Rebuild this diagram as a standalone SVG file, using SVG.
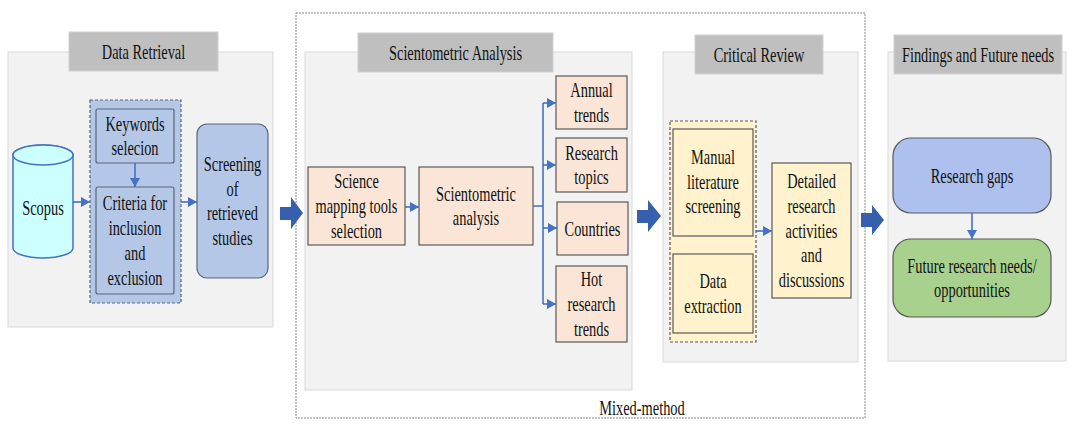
<svg xmlns="http://www.w3.org/2000/svg" width="1080" height="430" viewBox="0 0 1080 430">
<defs>
<marker id="ah" markerUnits="userSpaceOnUse" markerWidth="9" markerHeight="10" refX="9" refY="5" orient="auto">
<path d="M0,0 L9,5 L0,10 z" fill="#4472C4"/>
</marker>
<style>
.panel{fill:#F2F2F2;stroke:#D9D9D9;stroke-width:1}
.hdr{fill:#BFBFBF;stroke:#D0D0D0;stroke-width:1}
text{font-family:'Liberation Serif','Times New Roman','DejaVu Serif',serif;font-size:20px;fill:#111;text-anchor:middle}
.blue{fill:#B4C7E7;stroke:#5A6478;stroke-width:1.2}
.peach{fill:#FBE5D6;stroke:#595959;stroke-width:1.2}
.yel{fill:#FFF2CC;stroke:#595959;stroke-width:1.2}
.dash{stroke-dasharray:3 2}
.con{stroke:#4472C4;stroke-width:1.6;fill:none}
.big{fill:#3660AE}
</style>
</defs>
<rect x="0" y="0" width="1080" height="430" fill="#fff"/>

<g id="mixed-method">
<rect x="296" y="13" width="569" height="405" fill="#fff" stroke="#8C8C8C" stroke-width="1" stroke-dasharray="2 1"/>
<text font-family="Liberation Serif, serif" transform="translate(642,415) scale(0.72,1)" x="0" y="0">Mixed-method</text>
</g>

<g id="panel-data-retrieval">
<rect class="panel" x="8" y="52" width="265" height="275"/>
<rect class="hdr" x="69" y="32" width="149" height="39"/>
<text font-family="Liberation Serif, serif" transform="translate(143.5,51.5) scale(0.72,1)" x="0" y="7">Data Retrieval</text>
</g>
<g id="panel-scientometric">
<rect class="panel" x="305" y="52" width="327" height="338"/>
<rect class="hdr" x="358" y="33" width="195" height="39"/>
<text font-family="Liberation Serif, serif" transform="translate(455.5,52.5) scale(0.72,1)" x="0" y="7">Scientometric Analysis</text>
</g>
<g id="panel-critical-review">
<rect class="panel" x="663" y="52" width="195" height="310"/>
<rect class="hdr" x="695" y="35" width="128" height="39"/>
<text font-family="Liberation Serif, serif" transform="translate(759,54.5) scale(0.72,1)" x="0" y="7">Critical Review</text>
</g>
<g id="panel-findings">
<rect class="panel" x="888" y="52" width="178" height="309"/>
<rect class="hdr" x="894" y="35" width="168" height="39"/>
<text font-family="Liberation Serif, serif" transform="translate(978,54.5) scale(0.72,1)" x="0" y="7">Findings and Future needs</text>
</g>

<g id="scopus">
<path d="M13,155 L13,248 A30,10 0 0 0 73,248 L73,155 A30,10 0 0 0 13,155 Z" fill="#CCFFFF" stroke="#4472C4" stroke-width="1.5"/>
<ellipse cx="43" cy="155" rx="30" ry="10" fill="#CCFFFF" stroke="#4472C4" stroke-width="1.5"/>
<text font-family="Liberation Serif, serif" transform="translate(43,208) scale(0.72,1)" x="0" y="7">Scopus</text>
</g>
<g id="keywords-group">
<rect class="blue dash" x="90" y="100" width="91" height="203"/>
</g>
<g id="keywords">
<rect class="blue" x="96" y="109" width="78" height="54" rx="2"/>
<text font-family="Liberation Serif, serif" transform="translate(135,136) scale(0.72,1)"><tspan x="0" y="-5.5">Keywords</tspan><tspan x="0" y="19.5">selecion</tspan></text>
</g>
<g id="criteria">
<rect class="blue" x="96" y="187" width="78" height="107" rx="2"/>
<text font-family="Liberation Serif, serif" transform="translate(135,240.5) scale(0.72,1)"><tspan x="0" y="-30.5">Criteria for</tspan><tspan x="0" y="-5.5">inclusion</tspan><tspan x="0" y="19.5">and</tspan><tspan x="0" y="44.5">exclusion</tspan></text>
</g>
<g id="screening">
<rect class="blue" x="197" y="124" width="71" height="154" rx="10"/>
<text font-family="Liberation Serif, serif" transform="translate(232.5,201) scale(0.72,1)"><tspan x="0" y="-30.5">Screening</tspan><tspan x="0" y="-5.5">of</tspan><tspan x="0" y="19.5">retrieved</tspan><tspan x="0" y="44.5">studies</tspan></text>
</g>

<g id="science-mapping">
<rect class="peach" x="308" y="167" width="97" height="78"/>
<text font-family="Liberation Serif, serif" transform="translate(356.5,206) scale(0.72,1)"><tspan x="0" y="-18">Science</tspan><tspan x="0" y="7">mapping tools</tspan><tspan x="0" y="32">selection</tspan></text>
</g>
<g id="scientometric-analysis">
<rect class="peach" x="419" y="167" width="114" height="78"/>
<text font-family="Liberation Serif, serif" transform="translate(476,206) scale(0.72,1)"><tspan x="0" y="-5.5">Scientometric</tspan><tspan x="0" y="19.5">analysis</tspan></text>
</g>
<g id="annual-trends">
<rect class="peach" x="556" y="76" width="71" height="53"/>
<text font-family="Liberation Serif, serif" transform="translate(591.5,102.5) scale(0.72,1)"><tspan x="0" y="-5.5">Annual</tspan><tspan x="0" y="19.5">trends</tspan></text>
</g>
<g id="research-topics">
<rect class="peach" x="556" y="138" width="71" height="54"/>
<text font-family="Liberation Serif, serif" transform="translate(591.5,165) scale(0.72,1)"><tspan x="0" y="-5.5">Research</tspan><tspan x="0" y="19.5">topics</tspan></text>
</g>
<g id="countries">
<rect class="peach" x="557" y="202" width="71" height="53"/>
<text font-family="Liberation Serif, serif" transform="translate(592.5,228.5) scale(0.72,1)" x="0" y="7">Countries</text>
</g>
<g id="hot-research-trends">
<rect class="peach" x="556" y="266" width="71" height="76"/>
<text font-family="Liberation Serif, serif" transform="translate(591.5,304) scale(0.72,1)"><tspan x="0" y="-18">Hot</tspan><tspan x="0" y="7">research</tspan><tspan x="0" y="32">trends</tspan></text>
</g>

<g id="review-group">
<rect class="yel" x="670" y="121" width="86" height="221" stroke="#7F7F7F" stroke-dasharray="3 2"/>
</g>
<g id="manual-screening">
<rect class="yel" x="673" y="129" width="80" height="107"/>
<text font-family="Liberation Serif, serif" transform="translate(713,181.5) scale(0.72,1)"><tspan x="0" y="-18">Manual</tspan><tspan x="0" y="7">literature</tspan><tspan x="0" y="32">screening</tspan></text>
</g>
<g id="data-extraction">
<rect class="yel" x="673" y="254" width="80" height="79"/>
<text font-family="Liberation Serif, serif" transform="translate(713,293.5) scale(0.72,1)"><tspan x="0" y="-5.5">Data</tspan><tspan x="0" y="19.5">extraction</tspan></text>
</g>
<g id="detailed-research">
<rect class="yel" x="772" y="163" width="79" height="135"/>
<text font-family="Liberation Serif, serif" transform="translate(811.5,230.5) scale(0.72,1)"><tspan x="0" y="-43">Detailed</tspan><tspan x="0" y="-18">research</tspan><tspan x="0" y="7">activities</tspan><tspan x="0" y="32">and</tspan><tspan x="0" y="57">discussions</tspan></text>
</g>

<g id="research-gaps">
<rect x="893" y="138" width="158" height="75" rx="18" fill="#ADC0EE" stroke="#595959" stroke-width="1.2"/>
<text font-family="Liberation Serif, serif" transform="translate(972,175.5) scale(0.72,1)" x="0" y="7">Research gaps</text>
</g>
<g id="future-needs">
<rect x="893" y="239" width="158" height="78" rx="18" fill="#A9D18E" stroke="#595959" stroke-width="1.2"/>
<text font-family="Liberation Serif, serif" transform="translate(972,278) scale(0.72,1)"><tspan x="0" y="-5.5">Future research needs/</tspan><tspan x="0" y="19.5">opportunities</tspan></text>
</g>

<g id="connectors">
<line class="con" x1="73" y1="202" x2="90" y2="202" marker-end="url(#ah)"/>
<line class="con" x1="135" y1="163" x2="135" y2="187" marker-end="url(#ah)"/>
<line class="con" x1="181" y1="202" x2="197" y2="202" marker-end="url(#ah)"/>
<line class="con" x1="405" y1="207" x2="419" y2="207" marker-end="url(#ah)"/>
<path class="con" d="M533,206 H543 M543,103 V304"/>
<line class="con" x1="543" y1="103" x2="556" y2="103" marker-end="url(#ah)"/>
<line class="con" x1="543" y1="165" x2="556" y2="165" marker-end="url(#ah)"/>
<line class="con" x1="543" y1="228" x2="557" y2="228" marker-end="url(#ah)"/>
<line class="con" x1="543" y1="304" x2="556" y2="304" marker-end="url(#ah)"/>
<line class="con" x1="756" y1="231" x2="772" y2="231" marker-end="url(#ah)"/>
<line class="con" x1="972" y1="213" x2="972" y2="239" marker-end="url(#ah)"/>
<polygon class="big" points="280,207 291,207 291,197 303,213 291,229 291,220 280,220"/>
<polygon class="big" points="637,210 648,210 648,200 661,216 648,232 648,223 637,223"/>
<polygon class="big" points="861,213 872,213 872,205 884,220 872,235 872,227 861,227"/>
</g>
</svg>
